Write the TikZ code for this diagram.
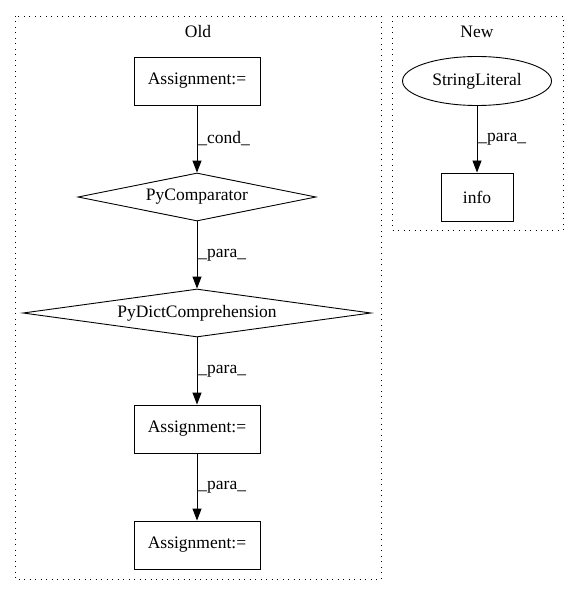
\documentclass[tikz,border=0pt]{standalone}
\usepackage{fontspec}
\setmainfont{Liberation Serif}
\usetikzlibrary{arrows.meta,positioning,shapes.geometric}
\tikzset{>={Triangle[length=12pt,width=9pt]}}
\tikzset{box/.style={draw, rectangle, inner sep=0pt, minimum height=48pt}}
\tikzset{cmpr/.style={draw, diamond, aspect=7, inner sep=0pt, minimum height=48pt}}
\tikzset{lbl/.style={right, inner sep=1pt}}
\tikzset{cluster/.style={line width=0.9pt, dash pattern=on 1pt off 4.5pt}}

\begin{document}
\begin{tikzpicture}[x=1pt,y=1pt,line width=0.9pt,font=\fontsize{17.5}{20}\selectfont]
      \useasboundingbox (0,0) rectangle (579,-596);
      % clusters
      \draw[cluster] (15,-16) rectangle (381,-579);
      \draw[cluster] (392,-16) rectangle (563,-230);
      \node (old) at (198,-32) {Old};
      \node (new) at (477,-32) {New};
      % old
      \node[box, minimum width=126pt] (a1) at (197,-81) {Assignment:=};
      \node[cmpr, minimum width=238pt] (cmp) at (197,-197) {PyComparator};
      \node[cmpr, minimum width=348pt] (dc) at (197,-313) {PyDictComprehension};
      \node[box, minimum width=126pt] (a2) at (197,-429) {Assignment:=};
      \node[box, minimum width=126pt] (a3) at (197,-545) {Assignment:=};
      % new
      \node[draw, ellipse, inner sep=0pt, minimum width=149pt, minimum height=49pt] (sl) at (477,-81) {StringLiteral};
      \node[box, minimum width=72pt] (info) at (477,-197) {info};
      \draw[->] (a1) -- node[lbl] {\_cond\_} (cmp);
      \draw[->] (cmp) -- node[lbl] {\_para\_} (dc);
      \draw[->] (dc) -- node[lbl] {\_para\_} (a2);
      \draw[->] (a2) -- node[lbl] {\_para\_} (a3);
      \draw[->] (sl) -- node[lbl] {\_para\_} (info);
    \end{tikzpicture}
\end{document}
